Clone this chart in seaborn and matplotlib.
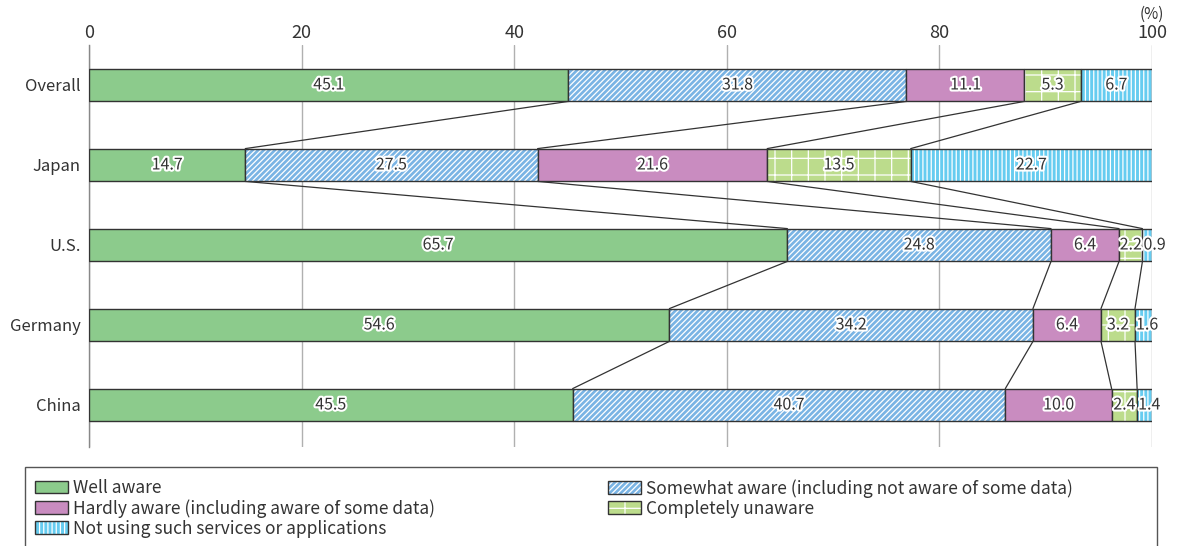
import numpy as np
import pandas as pd
import seaborn as sns
import matplotlib.pyplot as plt
import matplotlib.patches as mpatches
from matplotlib import patheffects as pe
from matplotlib.colors import to_rgba

# Awareness of personal data use, by country (%)
categories = ["Overall", "Japan", "U.S.", "Germany", "China"]
well_aware = [45.1, 14.7, 65.7, 54.6, 45.5]
somewhat_aware = [31.8, 27.5, 24.8, 34.2, 40.7]
hardly_aware = [11.1, 21.6, 6.4, 6.4, 10.0]
completely_unaware = [5.3, 13.5, 2.2, 3.2, 2.4]
not_using = [6.7, 22.7, 0.9, 1.6, 1.4]

series_names = [
    "Well aware",
    "Somewhat aware (including not aware of some data)",
    "Hardly aware (including aware of some data)",
    "Completely unaware",
    "Not using such services or applications",
]
series_values = [well_aware, somewhat_aware, hardly_aware, completely_unaware, not_using]
series_colors = ["#8ccb8c", "#7ab4e4", "#c98cc0", "#bcdc8c", "#66ccf0"]
series_hatches = [None, "//////", None, "+", "||||"]

sns.set_theme(style="white")
plt.rcParams["font.family"] = ["Noto Sans CJK JP", "DejaVu Sans"]
plt.rcParams["hatch.linewidth"] = 0.9

TEXT = "#333333"
EDGE = "#333333"

fig = plt.figure(figsize=(11.77, 5.46), dpi=100)
ax = fig.add_axes([89 / 1177, 1 - 447 / 546, (1152 - 89) / 1177, (447 - 45) / 546])

values = np.array(series_values)
lefts = np.vstack([np.zeros(len(categories)), np.cumsum(values, axis=0)[:-1]])

bar_h = 0.41
for name, vals, left, col, hatch in zip(series_names, values, lefts, series_colors, series_hatches):
    df = pd.DataFrame({"category": categories, "value": vals})
    n_before = len(ax.patches)
    sns.barplot(data=df, x="value", y="category", order=categories, orient="h",
                color=col, saturation=1, width=bar_h, left=left, errorbar=None,
                edgecolor=EDGE, linewidth=1.0, hatch=hatch, zorder=3, ax=ax)
    for p in ax.patches[n_before:]:
        p.set_facecolor(col)
        p._hatch_color = to_rgba("white")

# value labels
halo = [pe.withStroke(linewidth=3, foreground="white")]
for vals, left in zip(values, lefts):
    for i, (v, l) in enumerate(zip(vals, left)):
        if v < 2 and l + v > 99.9:
            x, ha = l + 0.1, "left"
        else:
            x, ha = l + v / 2, "center"
        ax.text(x, i, f"{v:.1f}", ha=ha, va="center", fontsize=11.5, color=TEXT,
                path_effects=halo, zorder=6)

# connector lines between segment boundaries of adjacent bars
bounds = np.cumsum(values, axis=0)[:-1]
for i in range(len(categories) - 1):
    for k in range(bounds.shape[0]):
        ax.plot([bounds[k, i], bounds[k, i + 1]], [i + bar_h / 2, i + 1 - bar_h / 2],
                color=EDGE, lw=0.9, zorder=2)

ax.set_xlim(0, 100)
ax.set_ylim(len(categories) - 1 + 0.525, -0.5)
ax.set_xticks(range(0, 101, 20))
ax.xaxis.tick_top()
ax.tick_params(axis="x", length=0, pad=2, labelsize=13, labelcolor=TEXT)
ax.tick_params(axis="y", length=0, pad=6, labelsize=12, labelcolor=TEXT)
ax.set_xlabel("")
ax.set_ylabel("")
ax.grid(axis="x", color="#b0b0b0", lw=1.0, zorder=0)
ax.grid(axis="y", visible=False)
ax.set_axisbelow(True)
for s in ["top", "right", "bottom"]:
    ax.spines[s].set_visible(False)
ax.spines["left"].set_color("#888888")
ax.spines["left"].set_linewidth(1.0)

ax.annotate("(%)", xy=(100, 1), xycoords=("data", "axes fraction"), xytext=(0, 16),
            textcoords="offset points", ha="center", va="bottom", fontsize=11, color=TEXT)

# legend frame
fig.add_artist(mpatches.Rectangle((25 / 1177, -0.05), (1157 - 25) / 1177, 0.05 + 1 - 467 / 546,
                                  transform=fig.transFigure, fill=False, edgecolor="#555555",
                                  lw=1.0))


def legend_handle(idx):
    h = mpatches.Patch(facecolor=series_colors[idx], edgecolor=EDGE, hatch=series_hatches[idx],
                       linewidth=1.0)
    h._hatch_color = to_rgba("white")
    return h


leg_kw = dict(frameon=False, fontsize=12.5, handlelength=1.9, handleheight=0.75,
              handletextpad=0.3, labelspacing=0.12, borderpad=0, borderaxespad=0,
              loc="upper left")
for cols, xpos in (([0, 2, 4], 35), ([1, 3], 608)):
    leg = fig.legend([legend_handle(i) for i in cols], [series_names[i] for i in cols],
                     bbox_to_anchor=(xpos / 1177, 1 - 479 / 546), **leg_kw)
    for t in leg.get_texts():
        t.set_color(TEXT)

fig.savefig("out.png", dpi=100)
